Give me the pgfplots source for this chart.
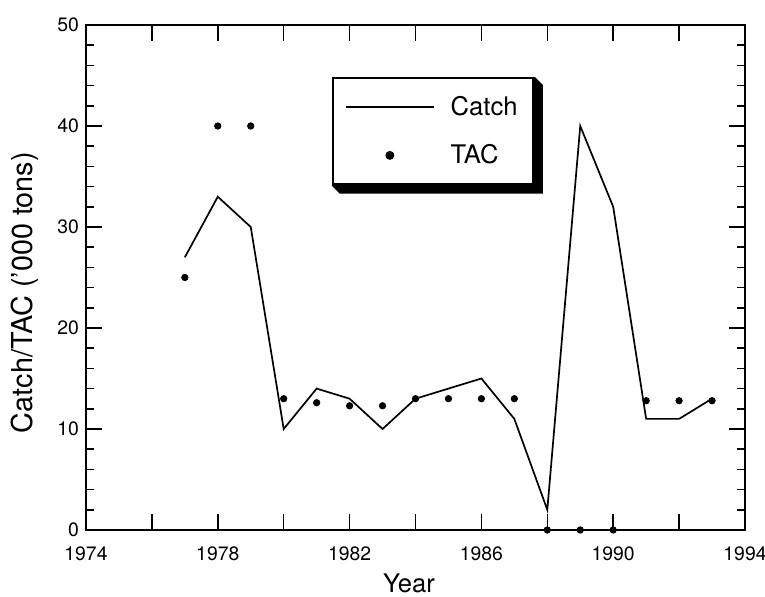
\documentclass[border=0pt]{standalone}
\usepackage{fontspec}
\setmainfont{TeX Gyre Heros}
\usepackage{pgfplots}
\pgfplotsset{compat=1.18}

\pgfplotsset{
  catch legend/.style={legend image code/.code={\draw[##1] (0pt,0pt) -- (44pt,0pt);}},
  tac legend/.style={legend image code/.code={\path[draw=none] (0pt,0pt) -- (44pt,0pt); \draw[##1] plot coordinates {(22pt,0pt)};}},
}

\begin{document}
\begin{tikzpicture}
\begin{axis}[
  width=329.5pt, height=252.5pt, scale only axis,
  xmin=1974, xmax=1994, ymin=0, ymax=50,
  clip=false,
  axis line style={line width=1pt},
  xtick={1974,1978,...,1994},
  extra x ticks={1976,1980,...,1992},
  extra x tick labels={},
  minor x tick num=3,
  ytick={0,10,...,50},
  minor y tick num=4,
  tick align=inside,
  major tick length=8pt, minor tick length=4pt,
  every tick/.style={black, line width=0.8pt},
  /pgf/number format/assume math mode=true,
  /pgf/number format/1000 sep={},
  tick label style={font=\fontsize{9.7}{11}\selectfont},
  xticklabel style={yshift=-5pt},
  xlabel={Year},
  ylabel={Catch/TAC ('000 tons)},
  xlabel style={font=\fontsize{12.8}{15}\selectfont, at={(axis description cs:0.49,-0.106)}, anchor=center},
  ylabel style={font=\fontsize{14.4}{17}\selectfont, at={(axis description cs:-0.093,0.47)}, anchor=center},
  legend style={name=leg, at={(0.373,0.897)}, anchor=north west, draw=black, line width=1.2pt, fill=white,
    font=\fontsize{12.8}{15}\selectfont, inner xsep=6pt, inner ysep=7pt, row sep=9pt, column sep=6pt},
  legend cell align=left,
]
\coordinate (sw) at (rel axis cs:0,0);
% Catch
\addplot[black, line width=0.85pt, catch legend]
  coordinates {
  (1977,27) (1978,33) (1979,30) (1980,10) (1981,14) (1982,13) (1983,10)
  (1984,13) (1985,14) (1986,15) (1987,11) (1988,2) (1989,40) (1990,32)
  (1991,11) (1992,11) (1993,13)
};
% TAC
\addplot[black, only marks, mark=*, mark size=1.6pt, tac legend]
  coordinates {
  (1977,25) (1978,40) (1979,40) (1980,13) (1981,12.6) (1982,12.3) (1983,12.3)
  (1984,13) (1985,13) (1986,13) (1987,13) (1988,0) (1989,0) (1990,0)
  (1991,12.8) (1992,12.8) (1993,12.8)
};
\legend{Catch, TAC}
\end{axis}
% shadow of the legend box
\fill[black] (leg.north east) -- ++(4pt,-4pt) -- ([shift={(4pt,-4pt)}]leg.south east)
  -- ([shift={(4pt,-4pt)}]leg.south west) -- (leg.south west) -- (leg.south east) -- cycle;
\pgfresetboundingbox
\path (sw) ++(-43pt,-33.5pt) rectangle ++(382.5pt,298.5pt);
\end{tikzpicture}
\end{document}
